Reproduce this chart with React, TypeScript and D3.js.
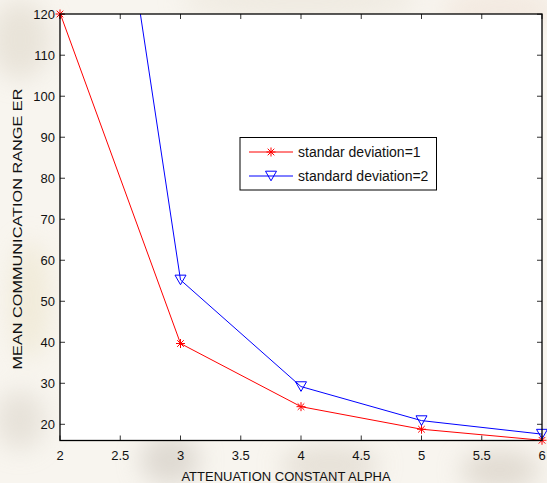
import React from "react";
import * as d3 from "d3";

const alphas = [2, 3, 4, 5, 6];
const sd1Values = [120.3, 39.7, 24.3, 18.8, 16.1];
const sd2Values = [250, 55.2, 29.2, 20.9, 17.6];
const xTicks = [2, 2.5, 3, 3.5, 4, 4.5, 5, 5.5, 6];
const yTicks = [20, 30, 40, 50, 60, 70, 80, 90, 100, 110, 120];
const seriesNames = ["standar deviation=1", "standard deviation=2"];
const xTitle = "ATTENUATION CONSTANT ALPHA";
const yTitle = "MEAN COMMUNICATION RANGE  ER";

const W = 547;
const H = 483;
const L = 60, R = 542, T = 14, B = 440.5;
const FONT = "Arial, 'Liberation Sans', Helvetica, sans-serif";

const Star = ({ x, y, c }: { x: number; y: number; c: string }) => {
  const s = 4.5;
  const d = 3.3;
  return (
    <g stroke={c} strokeWidth={1}>
      <line x1={x - s} y1={y} x2={x + s} y2={y} />
      <line x1={x} y1={y - s} x2={x} y2={y + s} />
      <line x1={x - d} y1={y - d} x2={x + d} y2={y + d} />
      <line x1={x - d} y1={y + d} x2={x + d} y2={y - d} />
    </g>
  );
};

const TriDown = ({ x, y, c }: { x: number; y: number; c: string }) => {
  const w = 5.5;
  const h = 4.8;
  return (
    <polygon
      points={`${x - w},${y - h} ${x + w},${y - h} ${x},${y + h}`}
      fill="none"
      stroke={c}
      strokeWidth={1}
    />
  );
};

export default function App() {
  const x = d3.scaleLinear().domain([2, 6]).range([L, R]);
  const y = d3.scaleLinear().domain([16.05, 120.05]).range([B, T]);
  const line = d3
    .line<number>()
    .x((_, i) => x(alphas[i]))
    .y((v) => y(v));

  const red = "#ff0000";
  const blue = "#0000ff";
  const tl = 5;

  return (
    <svg
      width={W}
      height={H}
      style={{ position: "absolute", left: 0, top: 0 }}
      fontFamily={FONT}
    >
      <defs>
        <filter id="blur" x="-50%" y="-50%" width="200%" height="200%">
          <feGaussianBlur stdDeviation="12" />
        </filter>
        <clipPath id="plotclip">
          <rect x={L} y={T} width={R - L} height={B - T} />
        </clipPath>
      </defs>
      {/* faint watermark background */}
      <rect x={0} y={0} width={W} height={H} fill="#f8f5ef" />
      <g filter="url(#blur)" opacity={0.55}>
        <ellipse cx={20} cy={40} rx={30} ry={40} fill="#ddd6c8" />
        <ellipse cx={300} cy={0} rx={120} ry={20} fill="#e8e2d6" />
        <ellipse cx={500} cy={10} rx={60} ry={20} fill="#efe0d4" />
        <ellipse cx={170} cy={460} rx={30} ry={25} fill="#c9c3ba" />
        <ellipse cx={330} cy={465} rx={50} ry={20} fill="#d8d0c4" />
        <ellipse cx={500} cy={470} rx={40} ry={20} fill="#cfc6ba" />
        <ellipse cx={30} cy={300} rx={20} ry={60} fill="#ebe3c8" />
        <ellipse cx={20} cy={420} rx={25} ry={30} fill="#d9d3c8" />
      </g>
      <rect x={L} y={T} width={R - L} height={B - T} fill="#ffffff" />

      {/* ticks */}
      <g stroke="#333" strokeWidth={1}>
        {xTicks.map((t) => (
          <g key={"xt" + t}>
            <line x1={x(t)} x2={x(t)} y1={B} y2={B - tl} />
            <line x1={x(t)} x2={x(t)} y1={T} y2={T + tl} />
          </g>
        ))}
        {yTicks.map((t) => (
          <g key={"yt" + t}>
            <line x1={L} x2={L + tl} y1={y(t)} y2={y(t)} />
            <line x1={R} x2={R - tl} y1={y(t)} y2={y(t)} />
          </g>
        ))}
      </g>

      {/* lines */}
      <g clipPath="url(#plotclip)">
        <path d={line(sd1Values) || ""} fill="none" stroke={red} strokeWidth={1} />
        <path d={line(sd2Values) || ""} fill="none" stroke={blue} strokeWidth={1} />
      </g>
      {/* markers */}
      {sd1Values.map((v, i) => (
        <Star key={"s" + i} x={x(alphas[i])} y={y(Math.min(v, 120.05))} c={red} />
      ))}
      {sd2Values.map((v, i) =>
        v <= 120.05 ? <TriDown key={"t" + i} x={x(alphas[i])} y={y(v)} c={blue} /> : null
      )}

      {/* axes box */}
      <rect x={L} y={T} width={R - L} height={B - T} fill="none" stroke="#000" strokeWidth={1.3} />

      {/* tick labels */}
      <g fontSize={13} fill="#111">
        {xTicks.map((t) => (
          <text key={"xl" + t} x={x(t)} y={460} textAnchor="middle">
            {String(t)}
          </text>
        ))}
        {yTicks.map((t) => (
          <text key={"yl" + t} x={55} y={y(t) + 4.5} textAnchor="end">
            {String(t)}
          </text>
        ))}
      </g>

      {/* axis titles */}
      <text x={286} y={481} fontSize={13} textAnchor="middle" fill="#111">
        {xTitle}
      </text>
      <text
        transform={`translate(22,229) rotate(-90)`}
        fontSize={13}
        textAnchor="middle"
        fill="#111"
        textLength={281}
        lengthAdjust="spacingAndGlyphs"
      >
        {yTitle}
      </text>

      {/* legend */}
      <g>
        <rect x={240} y={137.5} width={196.5} height={52.5} fill="#fff" stroke="#000" strokeWidth={1} />
        <line x1={249} x2={293} y1={152} y2={152} stroke={red} strokeWidth={1} />
        <Star x={271} y={152} c={red} />
        <line x1={249} x2={293} y1={176} y2={176} stroke={blue} strokeWidth={1} />
        <TriDown x={271} y={176} c={blue} />
        <text x={298} y={157} fontSize={14} fill="#111">
          {seriesNames[0]}
        </text>
        <text x={298} y={181} fontSize={14} fill="#111">
          {seriesNames[1]}
        </text>
      </g>
    </svg>
  );
}
